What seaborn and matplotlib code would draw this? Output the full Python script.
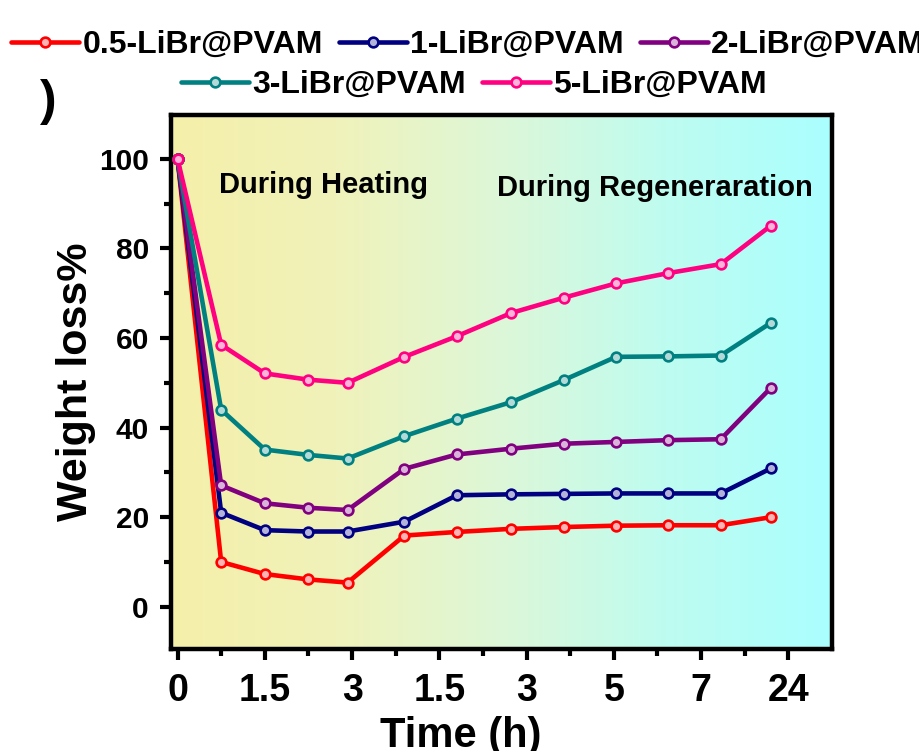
import numpy as np
import pandas as pd
import matplotlib
matplotlib.use('Agg')
import matplotlib.pyplot as plt
import seaborn as sns
from matplotlib.colors import LinearSegmentedColormap
from matplotlib.ticker import FixedLocator

# ---------------- data ----------------
series_names = ['0.5-LiBr@PVAM', '1-LiBr@PVAM', '2-LiBr@PVAM', '3-LiBr@PVAM', '5-LiBr@PVAM']
time_pos = [0, 1, 2, 3, 3.9, 5.2, 6.4, 7.65, 8.85, 10.05, 11.25, 12.45, 13.6]
tick_pos = [0, 2, 4, 6, 8, 10, 12, 14]
tick_labels = ['0', '1.5', '3', '1.5', '3', '5', '7', '24']

w05 = [100, 10.0, 7.3, 6.1, 5.4, 15.9, 16.7, 17.4, 17.8, 18.1, 18.2, 18.2, 20.0]
w1 = [100, 21.0, 17.1, 16.8, 16.8, 19.0, 24.9, 25.1, 25.2, 25.3, 25.3, 25.3, 30.9]
w2 = [100, 27.1, 23.1, 22.1, 21.6, 30.8, 34.0, 35.3, 36.4, 36.8, 37.2, 37.4, 48.9]
w3 = [100, 44.0, 35.1, 33.9, 33.1, 38.1, 42.0, 45.7, 50.6, 55.8, 55.9, 56.1, 63.4]
w5 = [100, 58.5, 52.1, 50.7, 50.0, 55.8, 60.4, 65.6, 69.0, 72.2, 74.5, 76.5, 85.1]
series_values = [w05, w1, w2, w3, w5]
colors = ['#FF0000', '#000080', '#800080', '#008080', '#FF0080']

# ---------------- style ----------------
sns.set_style('white')
plt.rcParams['font.family'] = ['Liberation Sans', 'DejaVu Sans']
plt.rcParams['font.weight'] = 'bold'
plt.rcParams['axes.labelweight'] = 'bold'
for k in ['text.color', 'axes.labelcolor', 'xtick.color', 'ytick.color', 'axes.edgecolor']:
    plt.rcParams[k] = 'black'

fig = plt.figure(figsize=(9.2, 7.51), dpi=100)
ax = fig.add_axes([171 / 920, 1 - 649.3 / 751, (832 - 171) / 920, (649.3 - 115) / 751])

xlim = (-0.15, 15.0)
ylim = (-9.5, 109.8)

# gradient background
bg_cmap = LinearSegmentedColormap.from_list(
    'bg', [(0.0, '#F5F0AA'), (0.25, '#F0F2BA'), (0.5, '#DDF7D8'),
           (0.75, '#BEFCF0'), (1.0, '#AAFFFF')])
grad = np.linspace(0, 1, 256).reshape(1, -1)
ax.imshow(grad, cmap=bg_cmap, aspect='auto', extent=(xlim[0], xlim[1], ylim[0], ylim[1]),
          zorder=0, interpolation='bicubic')


def lighten(c, f=0.7):
    rgb = np.array(matplotlib.colors.to_rgb(c))
    return tuple(rgb + (1 - rgb) * f)


for name, vals, col in zip(series_names, series_values, colors):
    df = pd.DataFrame({'t': time_pos, 'w': vals})
    sns.lineplot(data=df, x='t', y='w', ax=ax, color=col, linewidth=3.3, marker='o',
                 markersize=7, markeredgecolor=col, markerfacecolor=lighten(col),
                 markeredgewidth=1.9, label=name, legend=False, sort=False, zorder=3)

ax.set_xlim(*xlim)
ax.set_ylim(*ylim)

ax.xaxis.set_major_locator(FixedLocator(tick_pos))
ax.set_xticklabels(tick_labels)
ax.xaxis.set_minor_locator(FixedLocator([1, 3, 5, 7, 9, 11, 13]))
ax.yaxis.set_major_locator(FixedLocator([0, 20, 40, 60, 80, 100]))
ax.yaxis.set_minor_locator(FixedLocator([10, 30, 50, 70, 90]))

ax.tick_params(axis='both', which='major', direction='out', length=8, width=3,
               color='black', bottom=True, left=True)
ax.tick_params(axis='both', which='minor', direction='out', length=5, width=3,
               color='black', bottom=True, left=True)
ax.tick_params(axis='x', which='major', labelsize=27, pad=9, labelcolor='black')
ax.tick_params(axis='y', which='major', labelsize=21.5, pad=8, labelcolor='black')
for lab in ax.get_xticklabels() + ax.get_yticklabels():
    lab.set_fontweight('bold')

for sp in ax.spines.values():
    sp.set_linewidth(3.2)
    sp.set_color('black')
    sp.set_visible(True)
ax.grid(False)

ax.set_xlabel('Time (h)', fontsize=30, fontweight='bold', color='black')
ax.xaxis.set_label_coords(0.439, -0.125)
ax.set_ylabel('Weight loss%', fontsize=31, fontweight='bold', labelpad=2, color='black')

ax.text(0.95, 92.4, 'During Heating', fontsize=21, fontweight='bold', ha='left',
        va='baseline', zorder=4, color='black')
ax.text(7.33, 91.8, 'During Regeneraration', fontsize=21, fontweight='bold', ha='left',
        va='baseline', zorder=4, color='black')

# legends (two rows)
handles = [h for h in ax.get_lines() if h.get_label() in series_names]
leg_kw = dict(loc='center', frameon=False, handlelength=2.13, handletextpad=0.1,
              columnspacing=0.5, prop={'size': 23, 'weight': 'bold'}, borderpad=0,
              borderaxespad=0, labelcolor='black')
leg1 = fig.legend(handles[:3], series_names[:3], ncol=3,
                  bbox_to_anchor=(468 / 920, 1 - 45 / 751), **leg_kw)
leg2 = fig.legend(handles[3:], series_names[3:], ncol=2,
                  bbox_to_anchor=(474 / 920, 1 - 85 / 751), **leg_kw)

# cropped panel label fragment
fig.text(57 / 920, 1 - 102 / 751, ')', fontsize=36, fontweight='bold', ha='right',
         va='center', color='black')

fig.savefig('out.png', dpi=100)
